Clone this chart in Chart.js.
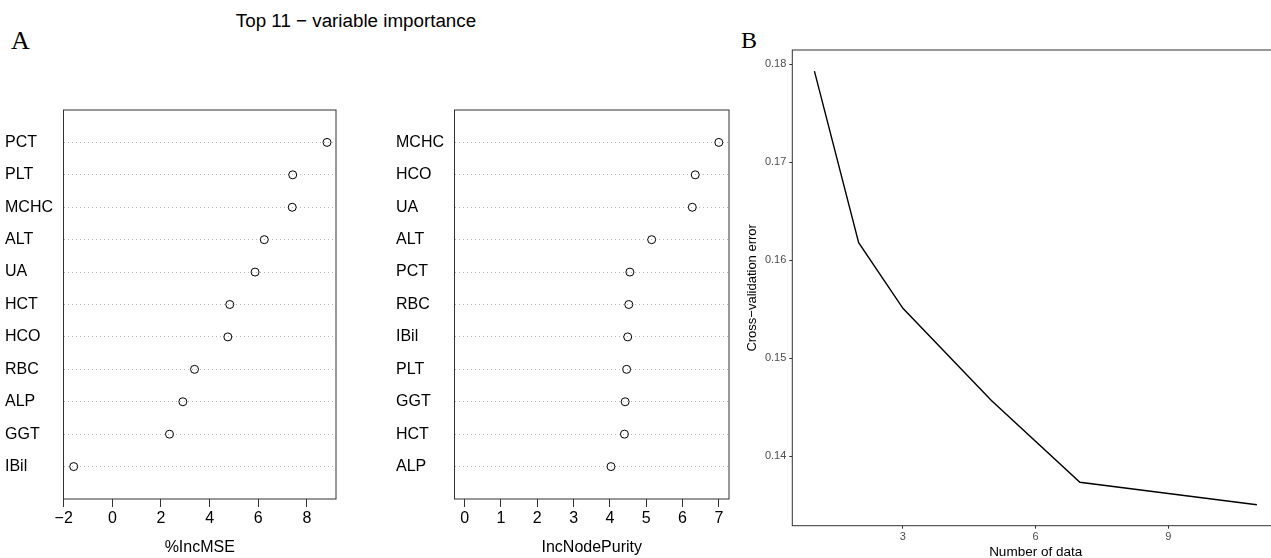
<!DOCTYPE html>
<html>
<head>
<meta charset="utf-8">
<script src="https://cdn.jsdelivr.net/npm/chart.js@4"></script>
<style>
  html, body { margin: 0; padding: 0; width: 1271px; height: 558px; overflow: hidden; background: #fff; }
  canvas { position: absolute; }
  .txt { position: absolute; white-space: nowrap; color: #000; }
</style>
</head>
<body>
<div class="txt" style="left:0;width:712px;top:10px;line-height:20px;text-align:center;font:18.8px 'Liberation Sans', Arial, sans-serif;">Top 11 − variable importance</div>
<div class="txt" style="left:11px;top:28px;font:26px 'Liberation Serif', serif;line-height:26px;">A</div>
<div class="txt" style="left:741px;top:28px;font:24px 'Liberation Serif', serif;line-height:24px;">B</div>

<canvas id="mseChart" width="345" height="459" style="left:0;top:99px"></canvas>
<canvas id="purityChart" width="360" height="459" style="left:380px;top:99px"></canvas>
<canvas id="cvChart" width="560" height="540" style="left:740px;top:30px"></canvas>

<script>
// panel A, left: %IncMSE (bottom row first)
const mseVars = ["IBil", "GGT", "ALP", "RBC", "HCO", "HCT", "UA", "ALT", "MCHC", "PLT", "PCT"]
const mseValues = [-1.59, 2.35, 2.90, 3.38, 4.75, 4.83, 5.87, 6.25, 7.40, 7.42, 8.83]
const mseTicks = [-2, 0, 2, 4, 6, 8]

// panel A, right: IncNodePurity (bottom row first)
const purityVars = ["ALP", "HCT", "GGT", "PLT", "IBil", "RBC", "PCT", "ALT", "UA", "HCO", "MCHC"]
const purityValues = [4.03, 4.40, 4.42, 4.46, 4.49, 4.52, 4.55, 5.15, 6.27, 6.35, 7.00]
const purityTicks = [0, 1, 2, 3, 4, 5, 6, 7]

// panel B: cross-validation error
const nVars = [1, 2, 3, 5, 7, 11]
const cvError = [0.1793, 0.1618, 0.1551, 0.1457, 0.13735, 0.13506]
const cvXTicks = [3, 6, 9]
const cvYTicks = [0.14, 0.15, 0.16, 0.17, 0.18]

const sans = "'Liberation Sans', Arial, sans-serif"

// draws the frame round the plot area
const boxPlugin = {
  id: "box",
  beforeDatasetsDraw(chart, args, opts) {
    const { ctx, chartArea } = chart
    ctx.save()
    ctx.strokeStyle = opts.color || "#333"
    ctx.lineWidth = opts.width || 1
    ctx.strokeRect(chartArea.left, chartArea.top, chartArea.right - chartArea.left, chartArea.bottom - chartArea.top)
    ctx.restore()
  },
}

function createDotChart(id, names, values, xTicks, xMin, xMax, xTitle, padLeft, padRight) {
  const ctx = document.getElementById(id)
  const data = {
    datasets: [
      {
        data: values.map((v, i) => ({ x: v, y: i + 1 })),
        showLine: false,
        pointRadius: 4,
        pointBorderWidth: 1,
        pointBorderColor: "#000",
        pointBackgroundColor: "rgba(255,255,255,0)",
      },
    ],
  }

  const config = {
    type: "scatter",
    data: data,
    options: {
      responsive: false,
      animation: false,
      layout: { padding: { left: padLeft, right: padRight, top: 8, bottom: 0 } },
      plugins: { legend: false, tooltip: false, box: { color: "#333", width: 1 } },
      scales: {
        x: {
          type: "linear",
          min: xMin,
          max: xMax,
          afterBuildTicks: (scale) => { scale.ticks = xTicks.map((v) => ({ value: v })) },
          afterFit: (scale) => { scale.height = 59 },
          grid: { drawOnChartArea: false, drawTicks: true, tickLength: 8, tickColor: "#333", tickWidth: 1 },
          border: { display: false },
          ticks: {
            color: "#000",
            font: { family: sans, size: 16 },
            padding: 2,
            maxRotation: 0,
            callback: (value) => String(value).replace("-", "−"),
          },
          title: { display: true, text: xTitle, color: "#000", font: { family: sans, size: 16 }, padding: { top: 0, bottom: 1 } },
        },
        y: {
          type: "linear",
          min: 0,
          max: 12,
          afterBuildTicks: (scale) => { scale.ticks = names.map((n, i) => ({ value: i + 1 })) },
          afterFit: (scale) => { scale.width = 58.5 },
          grid: { drawTicks: false, color: "#b8b8b8", lineWidth: 1 },
          border: { display: false, dash: [1, 3] },
          ticks: {
            crossAlign: "far",
            color: "#000",
            font: { family: sans, size: 16, lineHeight: 1 },
            callback: (value) => names[value - 1],
          },
        },
      },
    },
    plugins: [boxPlugin],
  }
  return new Chart(ctx, config)
}

function createCvChart() {
  const ctx = document.getElementById("cvChart")
  const config = {
    type: "scatter",
    data: {
      datasets: [
        {
          data: nVars.map((n, i) => ({ x: n, y: cvError[i] })),
          showLine: true,
          borderColor: "#000",
          borderWidth: 1.4,
          pointRadius: 0,
          tension: 0,
        },
      ],
    },
    options: {
      responsive: false,
      animation: false,
      layout: { padding: { left: 0, right: 21, top: 20, bottom: 0 } },
      plugins: { legend: false, tooltip: false, box: { color: "#333", width: 1 } },
      scales: {
        x: {
          type: "linear",
          min: 0.5,
          max: 11.5,
          afterBuildTicks: (scale) => { scale.ticks = cvXTicks.map((v) => ({ value: v })) },
          afterFit: (scale) => { scale.height = 44.3 },
          grid: { drawOnChartArea: false, tickLength: 3, tickColor: "#333" },
          border: { display: false },
          ticks: { color: "#4d4d4d", font: { family: sans, size: 11 }, padding: 2, maxRotation: 0 },
          title: { display: true, text: "Number of data", color: "#000", font: { family: sans, size: 13.5 }, padding: { top: 0, bottom: 10 } },
        },
        y: {
          type: "linear",
          min: 0.13292,
          max: 0.18146,
          afterBuildTicks: (scale) => { scale.ticks = cvYTicks.map((v) => ({ value: v })) },
          afterFit: (scale) => { scale.width = 52.3 },
          grid: { drawOnChartArea: false, tickLength: 3, tickColor: "#333" },
          border: { display: false },
          ticks: {
            color: "#4d4d4d",
            font: { family: sans, size: 11 },
            padding: 3,
            callback: (value) => value.toFixed(2),
          },
          title: { display: true, text: "Cross−validation error", color: "#000", font: { family: sans, size: 13 }, padding: { top: 5, bottom: 0 } },
        },
      },
    },
    plugins: [boxPlugin],
  }
  return new Chart(ctx, config)
}

document.addEventListener("DOMContentLoaded", () => {
  createDotChart("mseChart", mseVars, mseValues, mseTicks, -2.01, 9.2, "%IncMSE", 5, 9)
  createDotChart("purityChart", purityVars, purityValues, purityTicks, -0.28, 7.28, "IncNodePurity", 16, 11)
  createCvChart()
})
</script>
</body>
</html>
